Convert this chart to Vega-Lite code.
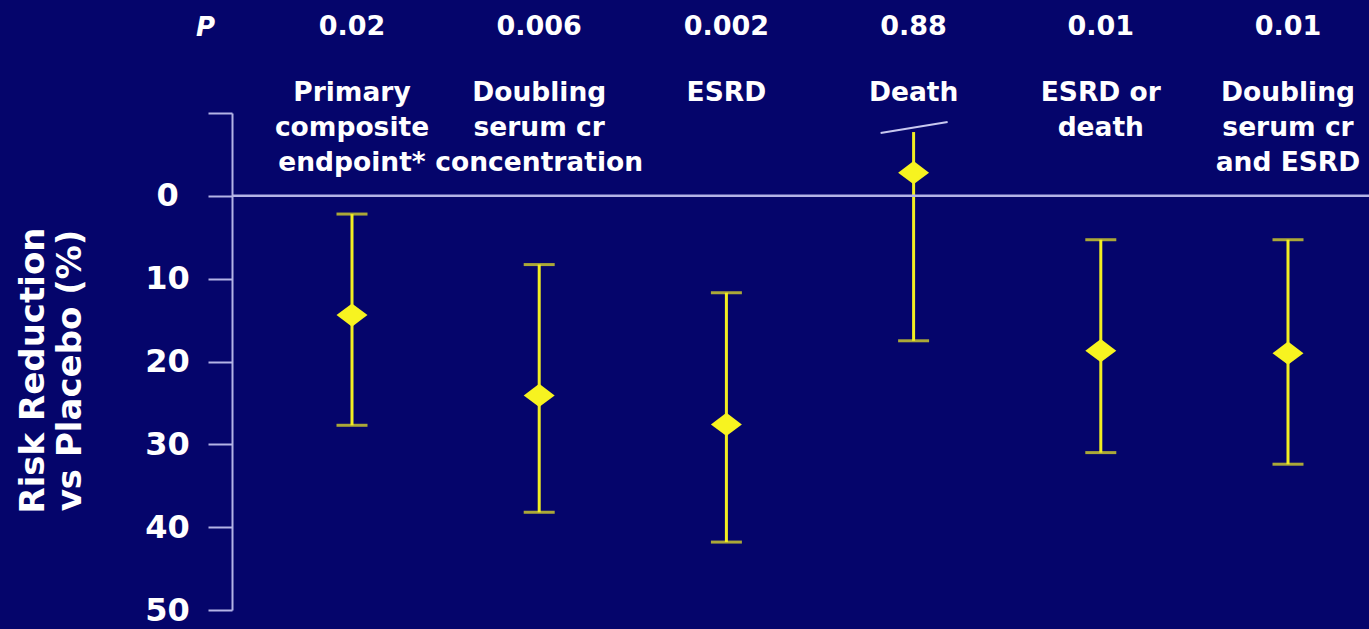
{
  "$schema": "https://vega.github.io/schema/vega-lite/v6.json",
  "width": 1137,
  "height": 497,
  "autosize": {"type": "none"},
  "padding": {"left": 232, "top": 113, "right": 0, "bottom": 19},
  "background": "#05056b",
  "config": {"view": {"stroke": null}, "font": "DejaVu Sans"},
  "data": {
    "values": [
      {"endpoint": "Primary composite endpoint*", "p": "0.02", "label": "Primary|composite|endpoint*", "rr": 14.4, "ci_low": 2.2, "ci_high": 27.7},
      {"endpoint": "Doubling serum cr concentration", "p": "0.006", "label": "Doubling|serum cr|concentration", "rr": 24.1, "ci_low": 8.3, "ci_high": 38.2},
      {"endpoint": "ESRD", "p": "0.002", "label": "ESRD", "rr": 27.6, "ci_low": 11.7, "ci_high": 41.8},
      {"endpoint": "Death", "p": "0.88", "label": "Death", "rr": -2.8, "ci_low": -7.7, "ci_high": 17.5},
      {"endpoint": "ESRD or death", "p": "0.01", "label": "ESRD or|death", "rr": 18.7, "ci_low": 5.3, "ci_high": 31.0},
      {"endpoint": "Doubling serum cr and ESRD", "p": "0.01", "label": "Doubling|serum cr|and ESRD", "rr": 19.0, "ci_low": 5.3, "ci_high": 32.4}
    ]
  },
  "layer": [
    {
      "mark": {"type": "rule", "color": "#f2ee22", "strokeWidth": 3},
      "encoding": {
        "x": {
          "field": "endpoint", "type": "nominal", "sort": null,
          "scale": {"type": "point", "range": [120, 1056], "padding": 0},
          "axis": {
            "orient": "top", "labels": false, "ticks": false, "domain": false, "grid": false,
            "title": "P", "titleX": -27, "titleY": -78, "titleAngle": 0, "titleAlign": "center",
            "titleBaseline": "alphabetic", "titleFontSize": 26, "titleFontStyle": "italic",
            "titleFontWeight": "bold", "titleColor": "#ffffff", "titleFont": "DejaVu Sans"
          }
        },
        "y": {
          "field": "ci_low", "type": "quantitative",
          "scale": {"domain": [-10, 50], "reverse": true, "nice": false, "zero": false},
          "axis": {
            "values": [-10, 0, 10, 20, 30, 40, 50],
            "labelExpr": "datum.value < 0 ? '' : datum.label",
            "grid": false, "domainColor": "#b4b4e6", "domainWidth": 2,
            "tickColor": "#b4b4e6", "tickWidth": 2, "tickSize": 24,
            "labelAlign": "center", "labelBaseline": "middle", "labelPadding": 41,
            "labelFontSize": 32, "labelFontWeight": "bold", "labelColor": "#ffffff",
            "labelFont": "DejaVu Sans", "labelFlush": false, "labelOverlap": false,
            "title": ["Risk Reduction", "vs Placebo (%)"],
            "titleFontSize": 34, "titleLineHeight": 37, "titleFontWeight": "bold",
            "titleColor": "#ffffff", "titleFont": "DejaVu Sans",
            "titleX": -199, "titleY": 257, "titleAngle": -90,
            "titleAlign": "center", "titleBaseline": "middle"
          }
        },
        "y2": {"field": "ci_high"}
      }
    },
    {
      "data": {"values": [{"v": 0}]},
      "mark": {"type": "rule", "color": "#b4b4e6", "strokeWidth": 2.5},
      "encoding": {
        "y": {"field": "v", "type": "quantitative", "scale": {"domain": [-10, 50], "reverse": true, "nice": false, "zero": false}}
      }
    },
    {
      "mark": {"type": "tick", "color": "#f2ee22", "size": 31, "thickness": 3, "orient": "horizontal"},
      "encoding": {
        "x": {"field": "endpoint", "type": "nominal", "sort": null, "scale": {"type": "point", "range": [120, 1056], "padding": 0}},
        "y": {"field": "ci_high", "type": "quantitative", "scale": {"domain": [-10, 50], "reverse": true, "nice": false, "zero": false}}
      }
    },
    {
      "transform": [{"filter": "datum.endpoint != 'Death'"}],
      "mark": {"type": "tick", "color": "#f2ee22", "size": 31, "thickness": 3, "orient": "horizontal"},
      "encoding": {
        "x": {"field": "endpoint", "type": "nominal", "sort": null, "scale": {"type": "point", "range": [120, 1056], "padding": 0}},
        "y": {"field": "ci_low", "type": "quantitative", "scale": {"domain": [-10, 50], "reverse": true, "nice": false, "zero": false}}
      }
    },
    {
      "transform": [{"filter": "datum.endpoint == 'Death'"}],
      "mark": {"type": "rule", "color": "#c8c8f0", "strokeWidth": 2, "xOffset": -33, "x2Offset": 34, "yOffset": 1, "y2Offset": -10},
      "encoding": {
        "x": {"field": "endpoint", "type": "nominal", "sort": null, "scale": {"type": "point", "range": [120, 1056], "padding": 0}},
        "x2": {"field": "endpoint"},
        "y": {"field": "ci_low", "type": "quantitative", "scale": {"domain": [-10, 50], "reverse": true, "nice": false, "zero": false}},
        "y2": {"field": "ci_low"}
      }
    },
    {
      "mark": {"type": "point", "shape": "M-1,0L0,-0.75L1,0L0,0.75Z", "filled": true, "opacity": 1, "color": "#f7f320", "size": 960},
      "encoding": {
        "x": {"field": "endpoint", "type": "nominal", "sort": null, "scale": {"type": "point", "range": [120, 1056], "padding": 0}},
        "y": {"field": "rr", "type": "quantitative", "scale": {"domain": [-10, 50], "reverse": true, "nice": false, "zero": false}}
      }
    },
    {
      "mark": {"type": "text", "color": "#ffffff", "font": "DejaVu Sans", "fontSize": 27, "fontWeight": "bold", "baseline": "alphabetic", "align": "center"},
      "encoding": {
        "x": {"field": "endpoint", "type": "nominal", "sort": null, "scale": {"type": "point", "range": [120, 1056], "padding": 0}},
        "y": {"datum": -19.4, "type": "quantitative", "scale": {"domain": [-10, 50], "reverse": true, "nice": false, "zero": false}},
        "text": {"field": "p", "type": "nominal"}
      }
    },
    {
      "mark": {"type": "text", "color": "#ffffff", "font": "DejaVu Sans", "fontSize": 26.5, "fontWeight": "bold", "baseline": "alphabetic", "align": "center", "lineBreak": "|", "lineHeight": 35},
      "encoding": {
        "x": {"field": "endpoint", "type": "nominal", "sort": null, "scale": {"type": "point", "range": [120, 1056], "padding": 0}},
        "y": {"datum": -11.45, "type": "quantitative", "scale": {"domain": [-10, 50], "reverse": true, "nice": false, "zero": false}},
        "text": {"field": "label", "type": "nominal"}
      }
    }
  ]
}
